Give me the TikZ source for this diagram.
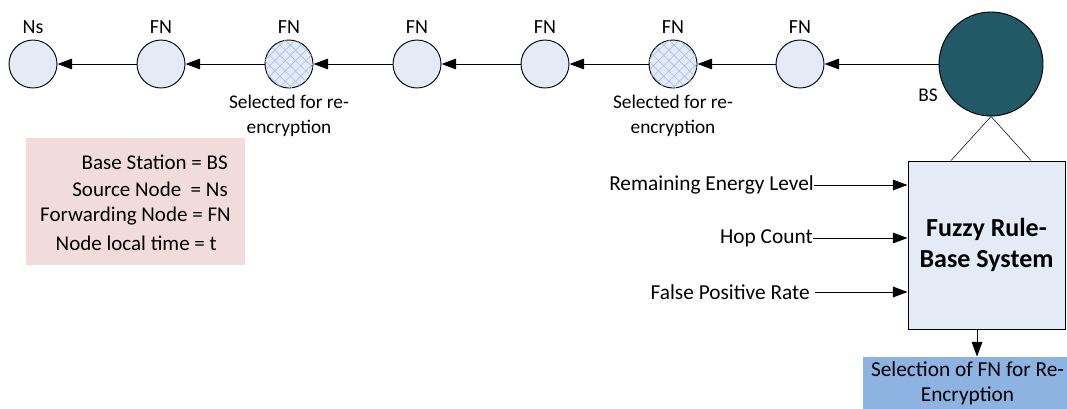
\documentclass[tikz,border=0pt]{standalone}
\usepackage{fontspec}
\setmainfont{Carlito}
\usetikzlibrary{arrows.meta,patterns.meta,calc}
\definecolor{nodefill}{HTML}{E4EBF6}
\definecolor{hatchc}{HTML}{A9C0E2}
\definecolor{bsfill}{HTML}{215967}
\definecolor{legfill}{HTML}{F2DCDB}
\definecolor{outfill}{HTML}{8DB3E2}
\tikzset{
  x=0.75pt, y=-0.75pt,
  every node/.style={font=\fontsize{14.5}{18.5}\selectfont, inner sep=0pt},
  big/.style={font=\fontsize{16}{19}\selectfont},
  fn/.style={circle, draw, line width=0.7pt, fill=nodefill, minimum size=36pt,
    label={[label distance=4pt, font=\fontsize{15}{18}\selectfont]above:#1}},
  hatched/.style={postaction={pattern={Lines[angle=45,distance=5.5pt,line width=0.5pt]}, pattern color=hatchc},
    postaction={pattern={Lines[angle=-45,distance=5.5pt,line width=0.5pt]}, pattern color=hatchc}},
  link/.style={line width=0.75pt, -{Triangle[length=11pt,width=8pt]}},
}
\begin{document}
\begin{tikzpicture}
\useasboundingbox (0,0) rectangle (1067,408);
% chain
\node[fn=Ns] (ns) at (33,64) {};
\node[fn=FN] (f1) at (161,64) {};
\node[fn=FN, hatched] (f2) at (289,64) {};
\node[fn=FN] (f3) at (417,64) {};
\node[fn=FN] (f4) at (545,64) {};
\node[fn=FN, hatched] (f5) at (673,64) {};
\node[fn=FN] (f6) at (800,64) {};
\node[circle, draw, line width=0.7pt, fill=bsfill, minimum size=78pt] (bs) at (991,64) {};
\node (bslab) at (928,95) {BS};
\draw[link] (bs.west) -- (f6.east);
\draw[link] (f6) -- (f5);
\draw[link] (f5) -- (f4);
\draw[link] (f4) -- (f3);
\draw[link] (f3) -- (f2);
\draw[link] (f2) -- (f1);
\draw[link] (f1) -- (ns);
\node[align=center] (sel1) at (289,116) {Selected for re-\\encryption};
\node[align=center] (sel2) at (673,116) {Selected for re-\\encryption};
% legend
\node[fill=legfill, minimum width=164.25pt, minimum height=95.25pt] (legend) at (135.5,201.5) {};
\node[anchor=east, font=\fontsize{15.75}{19}\selectfont] (l1) at (228,162) {Base Station = BS};
\node[anchor=east, font=\fontsize{15.75}{19}\selectfont] (l2) at (228,189) {Source Node\ \ = Ns};
\node[anchor=east, font=\fontsize{15.75}{19}\selectfont] (l3) at (231,216) {Forwarding Node = FN};
\node[anchor=east, font=\fontsize{15.75}{19}\selectfont] (l4) at (217,243) {Node local time = t};
% fuzzy system
\node[draw, line width=0.7pt, fill=nodefill, minimum width=117.75pt, minimum height=126pt,
  align=center, font=\fontsize{19.5}{23}\selectfont\bfseries] (fuzzy) at (986.5,245) {Fuzzy Rule-\\Base System};
\draw (bs.south) -- ($(bs.south |- fuzzy.north)+(-40,0)$);
\draw (bs.south) -- ($(bs.south |- fuzzy.north)+(40,0)$);
\node[anchor=east, big] (in1) at (814,185) {Remaining Energy Level};
\node[anchor=east, big] (in2) at (813,238) {Hop Count};
\node[anchor=east, big] (in3) at (810,292) {False Positive Rate};
\draw[link] (in1.east) -- (in1.east -| fuzzy.west);
\draw[link] (in2.east) -- (in2.east -| fuzzy.west);
\draw[link] ([xshift=4pt]in3.east) -- (in3.east -| fuzzy.west);
% output
\node[fill=outfill, minimum width=156.75pt, minimum height=40pt, align=center, big] (out) at (967.5,383.5) {Selection of FN for Re-\\Encryption};
\coordinate (ob) at ($(fuzzy.south)+(-9.5,0)$);
\draw[link] (ob) -- (ob |- out.north);
\end{tikzpicture}
\end{document}
